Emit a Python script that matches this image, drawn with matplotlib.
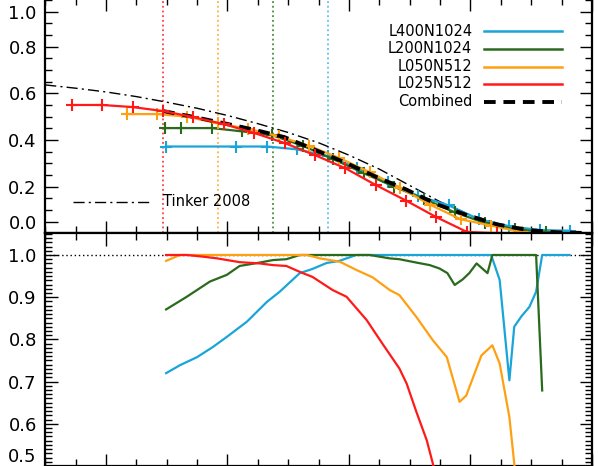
import matplotlib
matplotlib.use("Agg")
import matplotlib.pyplot as plt
from matplotlib.ticker import MultipleLocator, FixedLocator
import numpy as np

# ---------------- data ----------------
names = ["L400N1024", "L200N1024", "L050N512", "L025N512", "Combined"]
colors = ["#1aa5d9", "#2a6a1c", "#ffa012", "#ff1a1a", "black"]
cut_lines = [11.65, 10.75, 9.84, 8.94]  # resolution limits (cyan, green, orange, red)

# top panel
red_x = [7.44, 7.94, 8.44, 8.94, 9.44, 9.94, 10.44, 10.94, 11.44, 11.94, 12.44, 12.94, 13.44, 13.94, 14.44]
red_y = [0.550, 0.550, 0.541, 0.524, 0.498, 0.468, 0.430, 0.387, 0.335, 0.279, 0.207, 0.140, 0.069, 0.006, 0.0]

orange_x = [8.34, 8.84, 9.34, 9.84, 10.34, 10.84, 11.34, 11.84, 12.34, 12.84, 13.34, 13.84, 14.34, 14.84]
orange_y = [0.511, 0.511, 0.500, 0.471, 0.448, 0.416, 0.375, 0.323, 0.262, 0.195, 0.122, 0.060, 0.033, 0.005]

green_x = [8.97, 9.24, 9.74, 10.24, 10.74, 11.24, 11.74, 12.24, 12.74, 13.24, 13.74, 14.24, 14.74, 15.24]
green_y = [0.451, 0.451, 0.451, 0.437, 0.420, 0.375, 0.318, 0.258, 0.200, 0.147, 0.090, 0.044, 0.017, 0.006]

cyan_x = [8.99, 10.14, 10.65, 11.14, 11.65, 12.14, 12.64, 13.14, 13.64, 14.14, 14.64, 15.14, 15.64]
cyan_y = [0.372, 0.372, 0.372, 0.360, 0.330, 0.280, 0.220, 0.160, 0.120, 0.060, 0.030, 0.014, 0.011]

comb_x = [8.94, 9.44, 9.94, 10.44, 10.94, 11.44, 11.94, 12.44, 12.94, 13.44, 13.94, 14.44, 14.94, 15.44, 15.94]
comb_y = [0.524, 0.499, 0.472, 0.444, 0.412, 0.358, 0.303, 0.243, 0.188, 0.125, 0.078, 0.038, 0.014, 0.004, 0.001]

tinker_x = [7.0, 7.5, 8.0, 8.5, 9.0, 9.5, 10.0, 10.5, 11.0, 11.5, 12.0, 12.5, 13.0, 13.5, 14.0, 14.5, 15.0, 15.5, 16.0]
tinker_y = [0.636, 0.622, 0.606, 0.586, 0.562, 0.536, 0.505, 0.470, 0.432, 0.388, 0.335, 0.275, 0.205, 0.135, 0.078, 0.038, 0.014, 0.004, 0.001]

# bottom panel (ratio to combined)
rcyan_x = [8.99, 9.22, 9.50, 9.76, 9.99, 10.32, 10.65, 10.86, 11.19, 11.40, 11.63, 11.84, 12.12, 14.34, 14.48, 14.64, 14.72, 14.84, 14.97, 15.08, 15.18, 15.63]
rcyan_y = [0.720, 0.739, 0.758, 0.782, 0.806, 0.842, 0.889, 0.913, 0.957, 0.967, 0.981, 0.986, 1.0, 1.0, 0.941, 0.703, 0.830, 0.855, 0.877, 0.913, 1.0, 1.0]

rgreen_x = [8.99, 9.33, 9.71, 9.99, 10.20, 10.53, 10.75, 10.97, 11.19, 12.34, 12.67, 12.83, 13.11, 13.33, 13.49, 13.62, 13.74, 13.87, 13.98, 14.10, 14.28, 14.36, 15.08, 15.18]
rgreen_y = [0.871, 0.901, 0.937, 0.953, 0.974, 0.982, 0.988, 0.990, 1.0, 1.0, 0.992, 0.990, 0.982, 0.976, 0.968, 0.957, 0.929, 0.942, 0.957, 0.980, 0.957, 1.0, 1.0, 0.679]

rorange_x = [8.99, 9.22, 11.31, 11.52, 11.85, 12.13, 12.39, 12.67, 12.83, 13.11, 13.38, 13.61, 13.82, 13.93, 14.18, 14.36, 14.48, 14.64, 14.72, 14.80]
rorange_y = [0.986, 1.0, 1.0, 0.992, 0.984, 0.964, 0.947, 0.917, 0.905, 0.853, 0.798, 0.758, 0.652, 0.667, 0.762, 0.786, 0.743, 0.616, 0.506, 0.40]

rred_x = [8.99, 9.33, 9.60, 9.83, 10.20, 10.53, 10.75, 10.97, 11.19, 11.40, 11.73, 11.96, 12.29, 12.55, 12.83, 12.95, 13.11, 13.28, 13.38, 13.46]
rred_y = [1.0, 1.0, 0.996, 0.992, 0.983, 0.980, 0.976, 0.974, 0.960, 0.948, 0.917, 0.901, 0.846, 0.790, 0.731, 0.695, 0.628, 0.561, 0.506, 0.45]

top_ticks = [0.05, 0.2, 0.4, 0.6, 0.8, 0.95]
top_labels = ["0.0", "0.2", "0.4", "0.6", "0.8", "1.0"]
bot_ticks = [0.5, 0.6, 0.7, 0.8, 0.9, 1.0]
bot_labels = ["0.5", "0.6", "0.7", "0.8", "0.9", "1.0"]

# ---------------- figure ----------------
W, H = 598, 466
fig = plt.figure(figsize=(W / 100, H / 100), dpi=100)
plt.rcParams['font.family'] = ['DejaVu Sans']

L = 45.2 / W
R = 592.0 / W
ysplit = 1 - 233.3 / H
extra = 2.0  # px of the top panel above the picture edge
ax1 = fig.add_axes([L, ysplit, R - L, 1 - ysplit + extra / H])
ax2 = fig.add_axes([L, 0.0, R - L, ysplit])

for ax in (ax1, ax2):
    ax.set_xlim(7, 16)
    ax.xaxis.set_major_locator(MultipleLocator(2))
    ax.xaxis.set_minor_locator(MultipleLocator(0.5))
    ax.tick_params(which='both', direction='in', top=True, right=True,
                   labelbottom=False, width=1.0, color='black')
    ax.tick_params(which='major', length=9)
    ax.tick_params(which='minor', length=5)
    ax.tick_params(axis='y', labelsize=13, pad=6)
    for s in ax.spines.values():
        s.set_linewidth(1.6)

ax1.set_ylim(0.0, 1.0 + extra / 233.3)
ax1.yaxis.set_major_locator(FixedLocator(top_ticks))
ax1.set_yticklabels(top_labels)
ax1.yaxis.set_minor_locator(MultipleLocator(0.05))

ax2.set_ylim(0.5, 1.0514)
ax2.yaxis.set_major_locator(FixedLocator(bot_ticks))
ax2.set_yticklabels(bot_labels)
ax2.yaxis.set_minor_locator(MultipleLocator(0.01))
ax2.get_yticklabels()[0].set_va('bottom')

# vertical resolution lines
light = ["#5cc0e8", "#4a8a3c", "#ffb040", "#ff4040"]
for xv, c in zip(cut_lines, light):
    ax1.axvline(xv, color=c, ls=(0, (1, 1.6)), lw=1.3, zorder=1)

# Tinker
ax1.plot(tinker_x, tinker_y, color='black', lw=1.0, ls=(0, (8, 3, 1.5, 3)), zorder=2)
ax1.plot([7.45, 8.75], [0.135, 0.135], color='black', lw=1.0, ls=(0, (8, 3, 1.5, 3)))
ax1.text(8.94, 0.135, "Tinker 2008", fontsize=10.5, va='center', ha='left')

mk = dict(marker='+', markersize=8, mew=1.5)
ax1.plot(cyan_x, cyan_y, color=colors[0], lw=1.6, zorder=3, **mk)
ax1.plot(green_x, green_y, color=colors[1], lw=1.6, zorder=3, **mk)
ax1.plot(orange_x, orange_y, color=colors[2], lw=1.6, zorder=3, **mk)
ax1.plot(comb_x, comb_y, color='black', lw=2.8, ls=(0, (3, 2)), zorder=4)
ax1.plot(red_x, red_y, color=colors[3], lw=1.6, zorder=5, **mk)

# legend (manual)
leg_y = [0.867, 0.79, 0.713, 0.64, 0.563]
for n, c, yy in zip(names, colors, leg_y):
    ax1.text(14.03, yy, n, fontsize=10.5, ha='right', va='center')
    if c == 'black':
        ax1.plot([14.23, 15.51], [yy, yy], color=c, lw=2.8, ls=(0, (3, 2)))
    else:
        ax1.plot([14.23, 15.51], [yy, yy], color=c, lw=1.8)

# bottom panel
ax2.axhline(1.0, color='black', ls=(0, (1, 2)), lw=1.0, zorder=1)
ax2.plot(rcyan_x, rcyan_y, color=colors[0], lw=1.6, zorder=3)
ax2.plot(rgreen_x, rgreen_y, color=colors[1], lw=1.6, zorder=3)
ax2.plot(rorange_x, rorange_y, color=colors[2], lw=1.6, zorder=3)
ax2.plot(rred_x, rred_y, color=colors[3], lw=1.6, zorder=4)

fig.savefig("out.png", dpi=100)
